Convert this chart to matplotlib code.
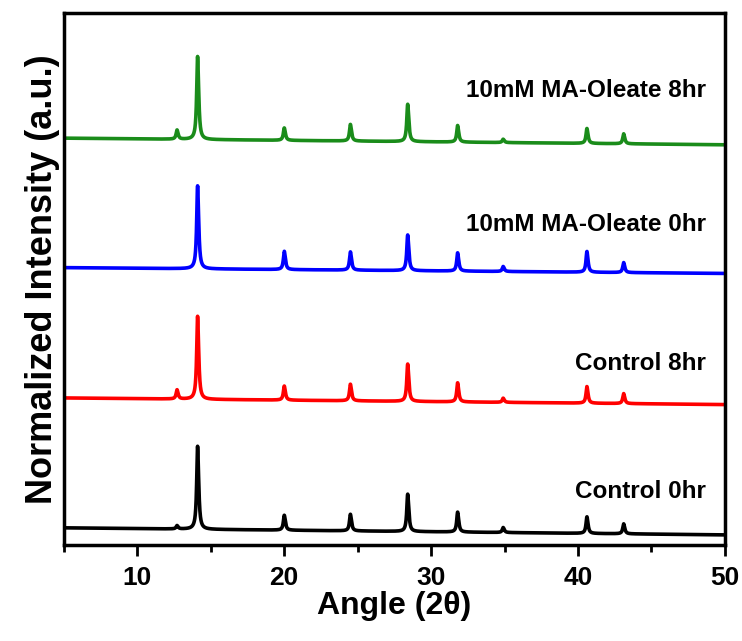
import numpy as np
import matplotlib.pyplot as plt
from matplotlib.ticker import MultipleLocator

plt.rcParams['font.family'] = ['Liberation Sans', 'DejaVu Sans']
plt.rcParams['font.weight'] = 'bold'

# peak positions (2theta)
peak_pos = [12.7, 14.1, 20.0, 24.5, 28.4, 31.8, 34.9, 40.6, 43.1]

# relative peak heights (main peak = 1) for each sample
h_control_0 = [0.04, 1.00, 0.18, 0.20, 0.45, 0.24, 0.06, 0.20, 0.12]
h_control_8 = [0.11, 1.00, 0.17, 0.20, 0.45, 0.23, 0.05, 0.20, 0.12]
h_oleate_0 = [0.00, 1.00, 0.22, 0.22, 0.43, 0.22, 0.06, 0.25, 0.12]
h_oleate_8 = [0.11, 1.00, 0.15, 0.20, 0.45, 0.20, 0.04, 0.18, 0.12]

# baseline level at 5 deg and 50 deg (stacked offsets)
base_left = [0.205, 1.77, 3.34, 4.90]
base_right = [0.12, 1.69, 3.27, 4.82]

names = ["Control 0hr", "Control 8hr", "10mM MA-Oleate 0hr", "10mM MA-Oleate 8hr"]
colors = ["black", "#ff0000", "#0000ff", "#1a8c1a"]
label_y = [0.64, 2.19, 3.86, 5.48]


def peak_shape(x, p):
    # K-alpha1 + small K-alpha2 shoulder, scaled so the top is 1
    s = 1 / (1 + ((x - p) / 0.07) ** 2)
    s = s + 0.3 / (1 + ((x - p - 0.06) / 0.08) ** 2)
    return s / s.max()


def pattern(x, heights, b0, b1):
    y = b0 + (b1 - b0) * (x - x[0]) / (x[-1] - x[0])
    for p, h in zip(peak_pos, heights):
        y = y + h * peak_shape(x, p)
    return y


def main():
    x = np.linspace(5, 50, 6001)
    all_h = [h_control_0, h_control_8, h_oleate_0, h_oleate_8]

    fig = plt.figure(figsize=(7.42, 6.41), dpi=100)
    ax = fig.add_axes([0.086, 0.150, 0.891, 0.830])

    for i in range(4):
        y = pattern(x, all_h[i], base_left[i], base_right[i])
        ax.plot(x, y, color=colors[i], lw=2.6)
        ax.text(48.7, label_y[i], names[i], ha='right', va='center',
                fontsize=17.5, fontweight='bold')

    ax.set_xlim(5, 50)
    ax.set_ylim(0, 6.41)
    ax.set_yticks([])
    ax.xaxis.set_major_locator(MultipleLocator(10))
    ax.xaxis.set_minor_locator(MultipleLocator(5))
    ax.tick_params(axis='x', which='major', direction='out', length=8,
                   width=2, labelsize=19, pad=7)
    ax.tick_params(axis='x', which='minor', direction='out', length=5, width=2)
    for lbl in ax.get_xticklabels():
        lbl.set_fontweight('bold')
    for s in ax.spines.values():
        s.set_linewidth(2.5)

    ax.set_xlabel("Angle (2θ)", fontsize=23, fontweight='bold', labelpad=1)
    ax.set_ylabel("Normalized Intensity (a.u.)", fontsize=26,
                  fontweight='bold', labelpad=3)

    fig.savefig("out.png", dpi=100)


if __name__ == "__main__":
    main()
